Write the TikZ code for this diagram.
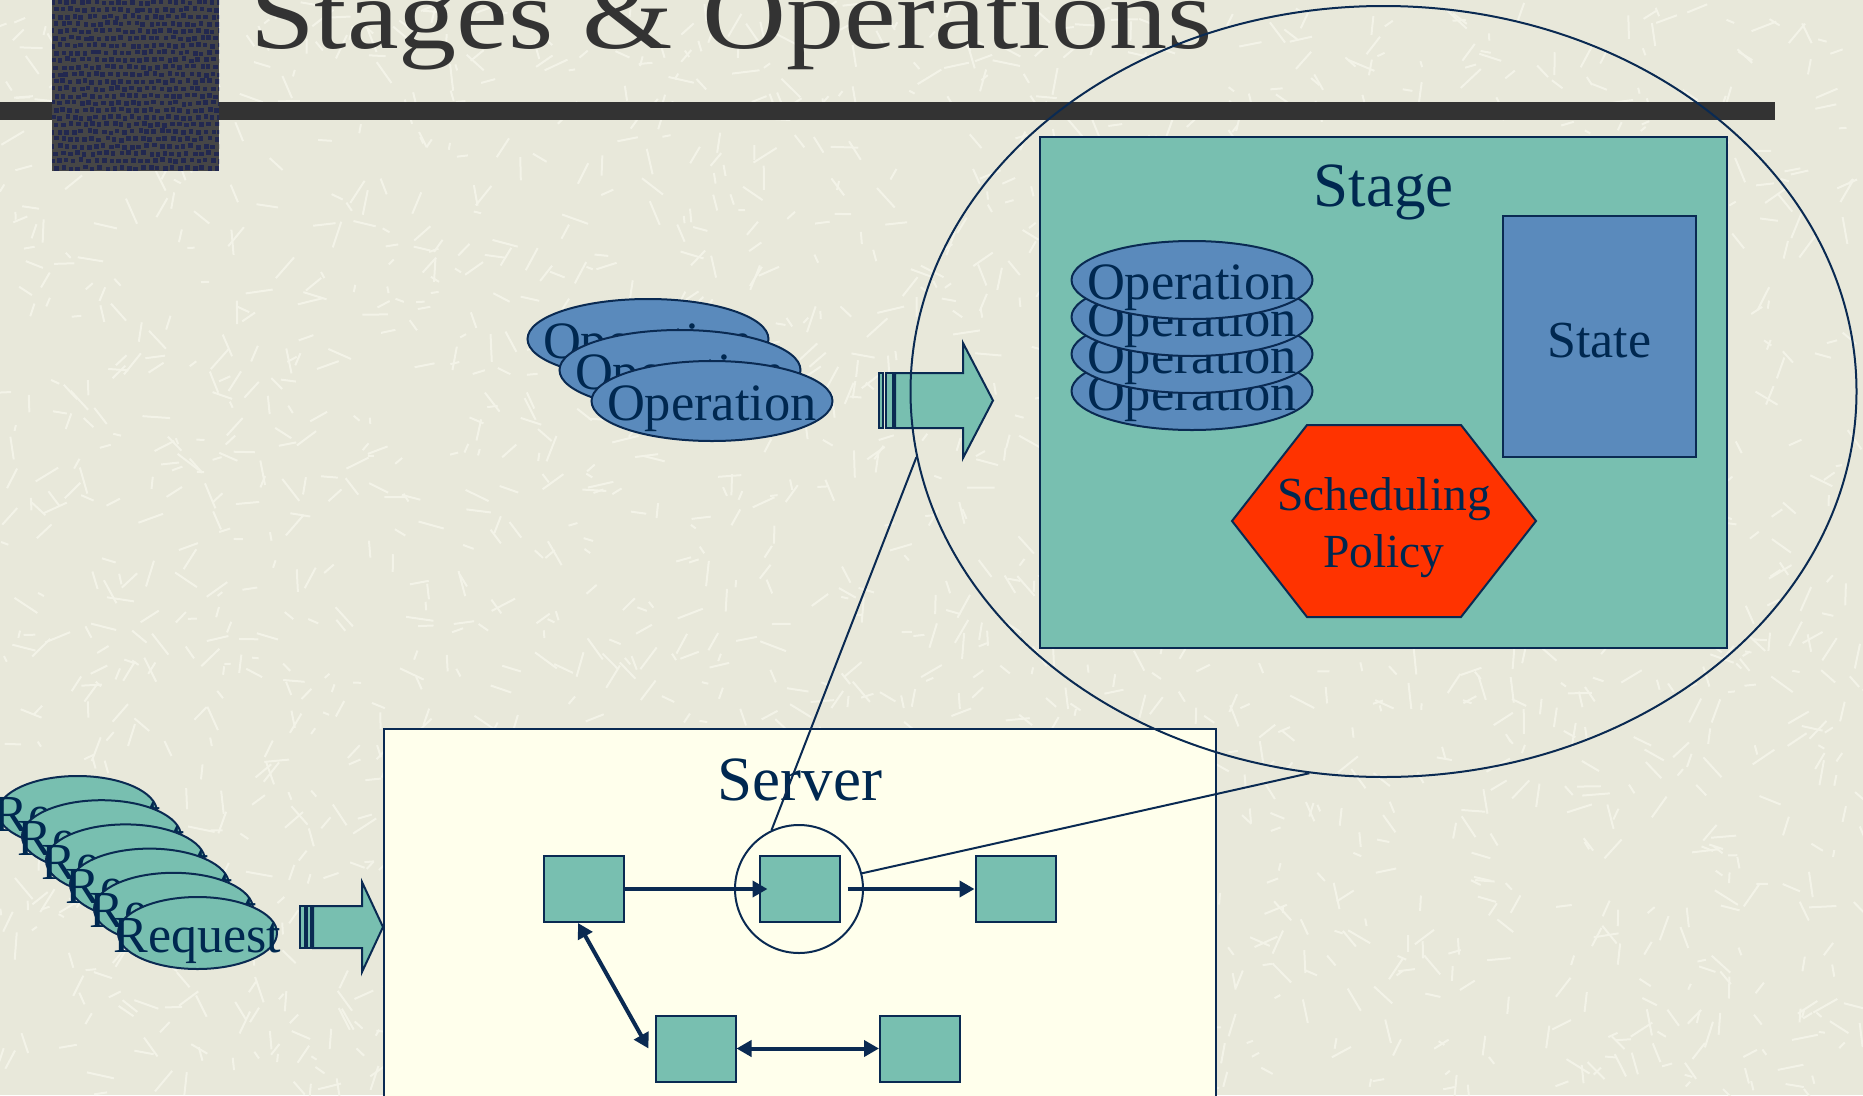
\documentclass[tikz,border=0pt]{standalone}
\usepackage{fontspec}
\setmainfont{Liberation Serif}
\usepackage{graphicx}
\usetikzlibrary{shapes.geometric,arrows.meta}
\definecolor{bgc}{HTML}{E8E8DA}
\definecolor{texc}{HTML}{F3F3E8}
\definecolor{tealc}{HTML}{78BFB0}
\definecolor{bluec}{HTML}{5A8ABC}
\definecolor{navy}{HTML}{0A2A52}
\definecolor{navytext}{HTML}{002850}
\definecolor{redc}{HTML}{FF3300}
\definecolor{creamc}{HTML}{FFFFEC}
\definecolor{barc}{HTML}{333333}
\definecolor{sqgray}{HTML}{464646}
\definecolor{dotc}{HTML}{222850}
\tikzset{
  opell/.style={ellipse, draw=navy, line width=2pt, fill=bluec, minimum width=241pt, minimum height=80pt, inner sep=0pt},
  reqell/.style={ellipse, draw=navy, line width=2pt, fill=tealc, minimum width=159pt, minimum height=72pt, inner sep=0pt},
  optext/.style={inner sep=0pt, text=navytext, text height=38pt, text depth=0pt, font=\fontsize{52.5}{60}\selectfont},
  sqbox/.style={draw=navy, line width=2pt, fill=tealc, minimum width=80pt, minimum height=66pt, inner sep=0pt},
  barrow/.style={draw=navy, line width=2pt, fill=tealc, line join=miter},
  sarr/.style={draw=navy, line width=4pt, -{Triangle[length=15pt,width=16pt]}},
  sarrb/.style={draw=navy, line width=4pt, {Triangle[length=15pt,width=16pt]}-{Triangle[length=15pt,width=16pt]}},
  thinline/.style={draw=navy, line width=2pt},
  bigtext/.style={inner sep=0pt, text=navytext, anchor=base, font=\fontsize{63}{70}\selectfont},
}
\begin{document}
\begin{tikzpicture}[x=1pt,y=-1pt]
\useasboundingbox (0,0) rectangle (1863,1095);
\fill[bgc] (0,0) rectangle (1863,1095);
% background texture
\pgfmathsetseed{3}
\foreach \n in {1,...,2200}{
  \pgfmathsetmacro\px{rnd*1863}
  \pgfmathsetmacro\py{rnd*1095}
  \pgfmathsetmacro\an{rnd*180}
  \pgfmathsetmacro\le{6+rnd*22}
  \draw[texc, line width=2pt] (\px,\py) -- ++(\an:\le);
}
% title bar
\fill[barc] (0,102) rectangle (1775,120);
% dark patterned square
\fill[sqgray] (52,0) rectangle (219,171);
\begin{scope}
\clip (52,0) rectangle (219,171);
\pgfmathsetseed{11}
\foreach \i in {0,...,23}{
  \foreach \j in {0,...,24}{
    \pgfmathsetmacro\dx{rand*1.2+mod(\j,2)*3.6}
    \pgfmathsetmacro\dy{rand*1.2}
    \fill[dotc] ({50+\i*7.3+\dx},{\j*7.2+\dy}) rectangle ++(4.6,4.6);
  }
}
\end{scope}
% title
\node[anchor=base west, inner sep=0pt, text=barc, font=\fontsize{100}{110}\selectfont] (title) at (250,48) {\scalebox{1.163}[1]{Stages \& Operations}};

% server box
\draw[thinline, fill=creamc] (384,729) rectangle (1216,1110);
\node[bigtext] (server) at (800,800) {Server};
\node[sqbox] (A) at (584,889) {};
\node[sqbox] (B) at (799.5,889) {};
\node[sqbox] (C) at (1015.5,889) {};
\node[sqbox] (D) at (695.5,1048.5) {};
\node[sqbox] (E) at (920,1048.5) {};
\node[circle, draw=navy, line width=2pt, minimum size=128pt, inner sep=0pt] (sc) at (799,889) {};
\draw[sarr] (A.east) -- ([xshift=9pt]B.west);
\draw[sarr] ([xshift=7pt]B.east) -- (C.west);
\draw[sarrb] ([xshift=-6pt]A.south) -- ([xshift=-6pt]D.west);
\draw[sarrb] (D.east) -- (E.west);

% left operation stack
\foreach \k/\cx/\cy in {1/648/339, 2/680/370, 3/712/401}{
  \node[opell] (lo\k) at (\cx,\cy) {};
  \node[optext] (lot\k) at (lo\k.center) {Operation};
}
% upper block arrow
\draw[barrow] (879,373) rectangle (883,428);
\draw[barrow] (886,373) rectangle (893,428);
\draw[barrow] (895,373) -- (963,373) -- (963,343) -- (993,400.5) -- (963,458) -- (963,428) -- (895,428) -- cycle;

% stage box
\node[draw=navy, line width=2.5pt, fill=tealc, minimum width=687pt, minimum height=511pt, inner sep=0pt] (stage) at (1383.5,392.5) {};
\node[bigtext] (stagelabel) at (1383.5,206) {Stage};
\node[draw=navy, line width=2.5pt, fill=bluec, minimum width=193pt, minimum height=241pt, inner sep=0pt] (state) at (1599.5,336.5) {};
\node[inner sep=0pt, text=navytext, anchor=base, font=\fontsize{52}{60}\selectfont] (statelabel) at (1599.5,357) {State};
\foreach \k/\cy in {4/391, 3/354, 2/317, 1/280}{
  \node[opell, minimum height=78pt] (so\k) at (1192,\cy) {};
  \node[optext] (sot\k) at (so\k.center) {Operation};
}
\draw[draw=navy, line width=2pt, fill=redc, line join=miter] (1232,521) -- (1307,425) -- (1461,425) -- (1536,521) -- (1461,617) -- (1307,617) -- cycle;
\node[inner sep=0pt, text=navytext, anchor=base, font=\fontsize{47.5}{57}\selectfont] (sched) at (1384,510) {Scheduling};
\node[inner sep=0pt, text=navytext, anchor=base, font=\fontsize{47.5}{57}\selectfont] (policy) at (1384,567) {Policy};

% big zoom ellipse
\node[ellipse, draw=navy, line width=2pt, minimum width=946pt, minimum height=771pt, inner sep=0pt] (big) at (1383.5,391.5) {};
\draw[thinline] (sc.115) -- (big.188);
\draw[thinline] (sc.14) -- (big.259.5);

% request stack
\foreach \k in {0,...,5}{
  \node[reqell] (rq\k) at ({77.5+24*\k},{812+24.2*\k}) {};
  \node[optext, font=\fontsize{52}{60}\selectfont] (rqt\k) at (rq\k.center) {Request};
}
% lower block arrow
\draw[barrow] (300,906) rectangle (305,948);
\draw[barrow] (307,906) rectangle (311,948);
\draw[barrow] (313,906) -- (362,906) -- (362,882) -- (383,927) -- (362,972) -- (362,948) -- (313,948) -- cycle;
\end{tikzpicture}
\end{document}
